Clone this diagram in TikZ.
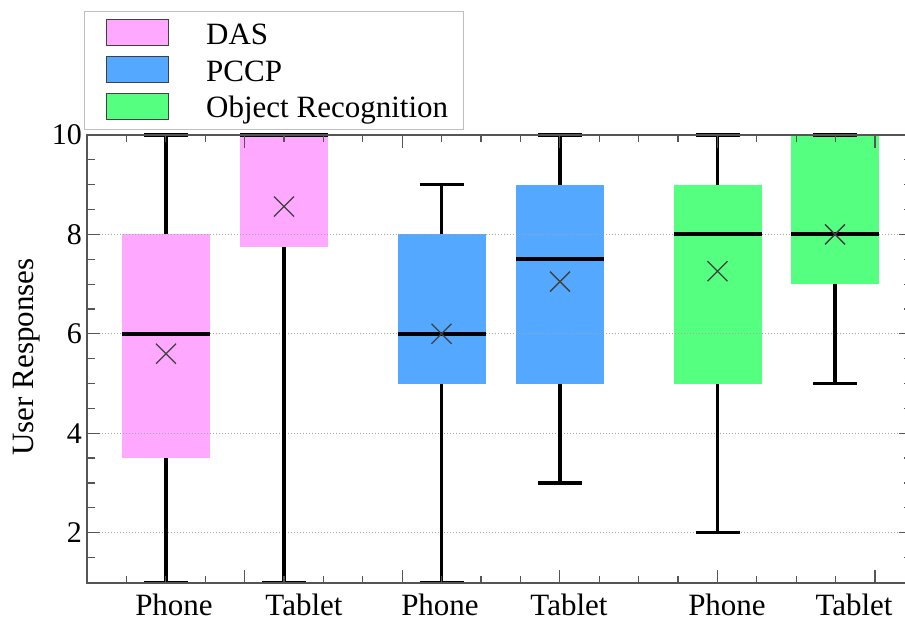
\documentclass[tikz,border=0pt]{standalone}
\usepackage{fontspec}
\setmainfont{Liberation Serif}
\definecolor{dasc}{RGB}{255,168,255}
\definecolor{pccpc}{RGB}{84,168,255}
\definecolor{orc}{RGB}{85,255,127}
\definecolor{axc}{RGB}{85,85,85}
\newcommand{\vy}[1]{(135+(10-(#1))*49.7)}
\newcommand{\bplotfill}[4]{\fill[#4] ({#1-44},{\vy{#2}}) rectangle ({#1+44},{\vy{#3}});}
\newcommand{\bplotlines}[7]{%
  \draw[whisk] ({#1},{\vy{#2}}) -- ({#1},{\vy{#3}});
  \draw[whisk] ({#1},{\vy{#5}}) -- ({#1},{\vy{#6}});
  \draw[whisk] ({#1-22},{\vy{#2}}) -- ({#1+22},{\vy{#2}});
  \draw[whisk] ({#1-22},{\vy{#6}}) -- ({#1+22},{\vy{#6}});
  \draw[medline] ({#1-44},{\vy{#4}}) -- ({#1+44},{\vy{#4}});
  \draw[meanx] ({#1-10},{\vy{#7}-10}) -- ({#1+10},{\vy{#7}+10})
               ({#1-10},{\vy{#7}+10}) -- ({#1+10},{\vy{#7}-10});
}
\begin{document}
\begin{tikzpicture}[x=1pt,y=-1pt,
  whisk/.style={line width=3.5pt,black},
  medline/.style={line width=4pt,black},
  meanx/.style={line width=1.3pt,black!75},
  gridln/.style={dotted,line width=1pt,black!35},
  axln/.style={line width=1.8pt,axc},
  tickln/.style={line width=1.2pt,axc},
  lab/.style={font=\fontsize{31}{36}\selectfont,inner sep=0pt},
  ticklab/.style={font=\fontsize{30}{36}\selectfont,inner sep=0pt},
  legpatch/.style={draw=black!75,line width=1pt}]
\useasboundingbox (0,0) rectangle (905,621);
\clip (0,0) rectangle (905,621);
% boxes
\bplotfill{166}{3.5}{8}{dasc}
\bplotfill{284}{7.75}{10}{dasc}
\bplotfill{441.5}{5}{8}{pccpc}
\bplotfill{560}{5}{9}{pccpc}
\bplotfill{717.5}{5}{9}{orc}
\bplotfill{835}{7}{10}{orc}
% grid lines
\foreach \v in {2,4,6,8} {
  \draw[gridln] (87,{\vy{\v}}) -- (912,{\vy{\v}});
}
% whiskers, medians, means
\bplotlines{166}{1}{3.5}{6}{8}{10}{5.6}
\bplotlines{284}{1}{7.75}{10}{10}{10}{8.56}
\bplotlines{441.5}{1}{5}{6}{8}{9}{6}
\bplotlines{560}{3}{5}{7.5}{9}{10}{7.05}
\bplotlines{717.5}{2}{5}{8}{9}{10}{7.26}
\bplotlines{835}{5}{7}{8}{10}{10}{8}
% ticks
\foreach \k in {1,...,21} {
  \pgfmathsetmacro\tx{87+39.4*\k}
  \pgfmathsetmacro\tl{mod(\k,4)==0 ? 13 : 7}
  \draw[tickln] (\tx,582.7) -- (\tx,{582.7-\tl});
  \draw[tickln] (\tx,135) -- (\tx,{135+\tl});
}
\foreach \v in {1.5,2,...,9.5} {
  \draw[tickln] (87,{\vy{\v}}) -- (95,{\vy{\v}});
  \draw[tickln] (912,{\vy{\v}}) -- (904,{\vy{\v}});
}
\foreach \v in {2,4,6,8} {
  \draw[tickln] (87,{\vy{\v}}) -- (100,{\vy{\v}});
  \draw[tickln] (912,{\vy{\v}}) -- (899,{\vy{\v}});
}
% axes
\draw[axln] (912,135) -- (87,135) -- (87,582.7) -- (912,582.7);
% tick labels
\foreach \v in {2,4,6,8,10} {
  \node[ticklab,anchor=east] (yl\v) at (82,{\vy{\v}}) {\v};
}
\node[lab,anchor=base] (x1) at (174,615) {Phone};
\node[lab,anchor=base] (x2) at (304,615) {Tablet};
\node[lab,anchor=base] (x3) at (440,615) {Phone};
\node[lab,anchor=base] (x4) at (569,615) {Tablet};
\node[lab,anchor=base] (x5) at (727,615) {Phone};
\node[lab,anchor=base] (x6) at (854,615) {Tablet};
\node[lab,anchor=base,rotate=90] (ylab) at (33,357) {User Responses};
% legend
\draw[black!25,fill=white,line width=0.8pt] (84,11) rectangle (463,129);
\draw[legpatch,fill=dasc] (106,19) rectangle (168,45);
\draw[legpatch,fill=pccpc] (106,56) rectangle (168,82);
\draw[legpatch,fill=orc] (106,93) rectangle (168,119);
\node[lab,anchor=base west] (l1) at (206,44) {DAS};
\node[lab,anchor=base west] (l2) at (206,81) {PCCP};
\node[lab,anchor=base west] (l3) at (206,117) {Object Recognition};
\end{tikzpicture}
\end{document}
